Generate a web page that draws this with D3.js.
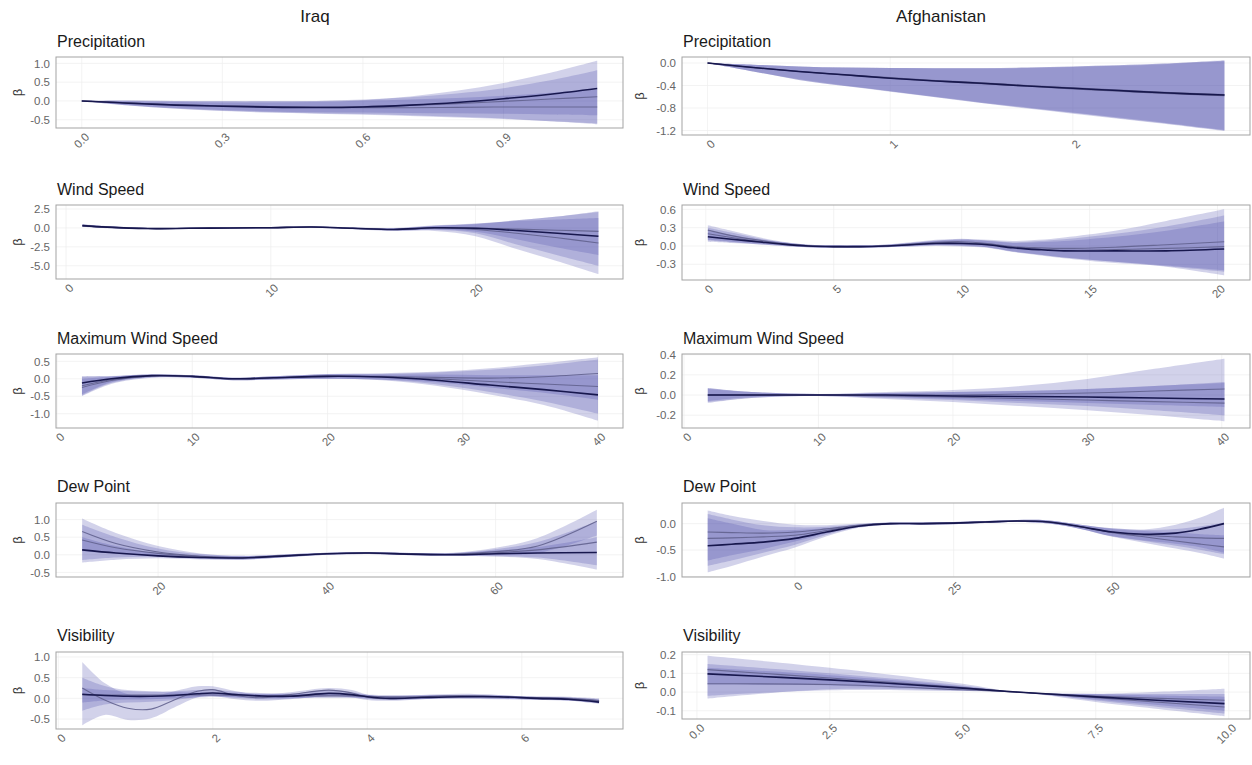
<!DOCTYPE html>
<html><head><meta charset="utf-8">
<script src="https://cdn.jsdelivr.net/npm/d3@7"></script>
<style>
body{margin:0;background:#fff;}
svg{display:block;font-family:"Liberation Sans",Arial,Helvetica,sans-serif;}
</style>
</head><body>
<svg id="chart" width="1252" height="765"></svg>
<script>
// ---------------- DATA ----------------
const countries = ["Iraq", "Afghanistan"];
const variables = ["Precipitation", "Wind Speed", "Maximum Wind Speed", "Dew Point", "Visibility"];

// Iraq – Precipitation
const iqPrecipX = [0, 0.1, 0.2, 0.3, 0.4, 0.5, 0.6, 0.7, 0.8, 0.9, 1.0, 1.1];
const iqPrecipFit = [
  [0, -0.06, -0.11, -0.14, -0.165, -0.175, -0.16, -0.11, -0.04, 0.06, 0.18, 0.33],
  [0, -0.05, -0.1, -0.13, -0.15, -0.16, -0.15, -0.12, -0.07, -0.01, 0.05, 0.11],
  [0, -0.05, -0.1, -0.13, -0.15, -0.17, -0.18, -0.18, -0.17, -0.16, -0.16, -0.16]];
const iqPrecipLo = [
  [0, -0.11, -0.19, -0.24, -0.28, -0.3, -0.31, -0.32, -0.33, -0.34, -0.36, -0.38],
  [0, -0.12, -0.2, -0.26, -0.3, -0.33, -0.35, -0.38, -0.42, -0.47, -0.54, -0.62],
  [0, -0.12, -0.21, -0.27, -0.31, -0.34, -0.37, -0.4, -0.44, -0.48, -0.54, -0.6]];
const iqPrecipHi = [
  [0, -0.01, -0.03, -0.04, -0.04, -0.03, 0.02, 0.12, 0.27, 0.48, 0.75, 1.07],
  [0, 0.01, 0.0, -0.01, -0.01, 0.0, 0.04, 0.1, 0.2, 0.34, 0.55, 0.82],
  [0, 0.01, 0.0, 0.0, 0.0, 0.0, 0.01, 0.04, 0.08, 0.14, 0.22, 0.3]];
const iqPrecipXTicks = [0, 0.3, 0.6, 0.9];
const iqPrecipXLabels = ["0.0", "0.3", "0.6", "0.9"];
const iqPrecipYTicks = [-0.5, 0, 0.5, 1.0];
const iqPrecipXLim = [-0.055, 1.155];
const iqPrecipYLim = [-0.72, 1.17];

// Afghanistan – Precipitation
const afPrecipX = [0, 0.25, 0.5, 0.75, 1.0, 1.25, 1.5, 1.75, 2.0, 2.25, 2.5, 2.83];
const afPrecipFit = [
  [0, -0.08, -0.15, -0.21, -0.27, -0.32, -0.36, -0.41, -0.45, -0.49, -0.53, -0.57],
  [0, -0.08, -0.15, -0.21, -0.26, -0.31, -0.35, -0.4, -0.44, -0.48, -0.52, -0.56],
  [0, -0.08, -0.15, -0.21, -0.27, -0.32, -0.37, -0.41, -0.46, -0.5, -0.54, -0.58]];
const afPrecipLo = [
  [0, -0.15, -0.3, -0.41, -0.5, -0.61, -0.71, -0.8, -0.89, -0.98, -1.07, -1.2],
  [0, -0.15, -0.29, -0.4, -0.5, -0.6, -0.7, -0.79, -0.88, -0.97, -1.06, -1.19],
  [0, -0.15, -0.3, -0.41, -0.51, -0.61, -0.71, -0.81, -0.9, -0.99, -1.08, -1.21]];
const afPrecipHi = [
  [0, -0.03, -0.06, -0.08, -0.09, -0.09, -0.09, -0.08, -0.06, -0.04, -0.01, 0.04],
  [0, -0.03, -0.06, -0.08, -0.09, -0.09, -0.09, -0.08, -0.06, -0.04, -0.01, 0.05],
  [0, -0.03, -0.06, -0.08, -0.09, -0.1, -0.1, -0.09, -0.07, -0.05, -0.02, 0.03]];
const afPrecipXTicks = [0, 1, 2];
const afPrecipXLabels = ["0", "1", "2"];
const afPrecipYTicks = [-1.2, -0.8, -0.4, 0.0];
const afPrecipXLim = [-0.14, 2.97];
const afPrecipYLim = [-1.28, 0.107];

// Iraq – Wind Speed
const iqWindX = [0.8, 2, 4, 6, 8, 10, 12, 14, 16, 18, 20, 22, 24, 26];
const iqWindFit = [
  [0.3, 0.1, -0.08, -0.05, 0.0, 0.03, 0.12, -0.05, -0.2, 0.02, -0.05, -0.35, -0.7, -1.1],
  [0.3, 0.1, -0.08, -0.05, 0.0, 0.03, 0.12, -0.05, -0.2, 0.0, -0.2, -0.7, -1.3, -2.0],
  [0.3, 0.1, -0.08, -0.05, 0.0, 0.03, 0.12, -0.05, -0.2, 0.02, 0.0, -0.15, -0.3, -0.45]];
const iqWindLo = [
  [0.15, -0.02, -0.16, -0.12, -0.08, -0.05, 0.03, -0.15, -0.35, -0.25, -0.7, -2.2, -3.6, -5.0],
  [0.12, -0.04, -0.18, -0.14, -0.1, -0.07, 0.01, -0.18, -0.4, -0.4, -1.1, -2.8, -4.4, -6.1],
  [0.16, -0.01, -0.15, -0.11, -0.07, -0.04, 0.04, -0.13, -0.32, -0.2, -0.5, -1.5, -2.6, -3.6]];
const iqWindHi = [
  [0.45, 0.22, 0.0, 0.02, 0.08, 0.11, 0.21, 0.05, -0.05, 0.3, 0.5, 1.0, 1.5, 2.2],
  [0.48, 0.24, 0.02, 0.04, 0.1, 0.13, 0.23, 0.08, 0.0, 0.35, 0.6, 0.9, 1.1, 1.3],
  [0.44, 0.21, -0.01, 0.01, 0.07, 0.1, 0.2, 0.03, -0.08, 0.25, 0.55, 1.0, 1.5, 2.1]];
const iqWindXTicks = [0, 10, 20];
const iqWindXLabels = ["0", "10", "20"];
const iqWindYTicks = [-5.0, -2.5, 0.0, 2.5];
const iqWindXLim = [-0.49, 27.2];
const iqWindYLim = [-6.75, 3.03];

// Afghanistan – Wind Speed
const afWindX = [0.08, 1, 2, 3, 4, 5, 6, 7, 8, 9, 10, 11, 12, 13, 14, 16, 18, 20.26];
const afWindFit = [
  [0.15, 0.11, 0.07, 0.03, 0.0, -0.01, -0.01, 0.0, 0.02, 0.04, 0.04, 0.02, -0.03, -0.06, -0.08, -0.08, -0.08, -0.05],
  [0.26, 0.17, 0.1, 0.04, 0.0, -0.01, -0.01, 0.0, 0.03, 0.06, 0.07, 0.04, -0.01, -0.03, -0.04, -0.02, 0.02, 0.07],
  [0.2, 0.14, 0.08, 0.03, 0.0, -0.01, -0.01, 0.0, 0.02, 0.05, 0.05, 0.03, -0.02, -0.05, -0.07, -0.06, -0.04, -0.01]];
const afWindLo = [
  [0.07, 0.05, 0.03, 0.0, -0.02, -0.03, -0.03, -0.02, -0.01, 0.0, -0.01, -0.03, -0.1, -0.15, -0.2, -0.28, -0.33, -0.42],
  [0.1, 0.07, 0.04, 0.01, -0.02, -0.03, -0.03, -0.02, 0.0, 0.02, 0.01, -0.02, -0.09, -0.14, -0.19, -0.26, -0.34, -0.48],
  [0.09, 0.06, 0.03, 0.0, -0.02, -0.03, -0.03, -0.02, -0.01, 0.01, 0.0, -0.02, -0.09, -0.14, -0.19, -0.26, -0.32, -0.4]];
const afWindHi = [
  [0.24, 0.18, 0.11, 0.06, 0.02, 0.01, 0.01, 0.02, 0.05, 0.08, 0.1, 0.08, 0.05, 0.06, 0.08, 0.15, 0.25, 0.4],
  [0.34, 0.25, 0.15, 0.07, 0.02, 0.01, 0.01, 0.02, 0.06, 0.1, 0.12, 0.1, 0.08, 0.1, 0.14, 0.25, 0.41, 0.6],
  [0.3, 0.22, 0.13, 0.06, 0.02, 0.01, 0.01, 0.02, 0.05, 0.09, 0.11, 0.09, 0.06, 0.08, 0.11, 0.2, 0.32, 0.5]];
const afWindXTicks = [0, 5, 10, 15, 20];
const afWindXLabels = ["0", "5", "10", "15", "20"];
const afWindYTicks = [-0.3, 0.0, 0.3, 0.6];
const afWindXLim = [-0.93, 21.27];
const afWindYLim = [-0.557, 0.671];

// Iraq – Maximum Wind Speed
const iqMaxX = [1.84, 4, 7, 10, 13, 16, 20, 24, 28, 32, 36, 40];
const iqMaxFit = [
  [-0.12, 0.0, 0.09, 0.07, 0.0, 0.03, 0.07, 0.05, -0.04, -0.18, -0.31, -0.46],
  [-0.25, -0.05, 0.08, 0.07, 0.0, 0.03, 0.07, 0.06, 0.0, -0.08, -0.15, -0.22],
  [-0.2, -0.03, 0.08, 0.07, 0.0, 0.03, 0.08, 0.07, 0.04, 0.02, 0.06, 0.15]];
const iqMaxLo = [
  [-0.45, -0.1, 0.05, 0.03, -0.04, -0.02, 0.0, -0.04, -0.2, -0.45, -0.75, -1.2],
  [-0.5, -0.15, 0.03, 0.03, -0.04, -0.02, 0.0, -0.03, -0.16, -0.38, -0.65, -1.0],
  [-0.48, -0.12, 0.04, 0.03, -0.04, -0.02, 0.0, -0.02, -0.1, -0.25, -0.4, -0.6]];
const iqMaxHi = [
  [0.08, 0.08, 0.13, 0.1, 0.03, 0.07, 0.13, 0.12, 0.12, 0.1, 0.1, 0.1],
  [0.0, 0.06, 0.12, 0.1, 0.03, 0.07, 0.13, 0.14, 0.18, 0.26, 0.38, 0.55],
  [0.05, 0.07, 0.12, 0.1, 0.03, 0.07, 0.14, 0.16, 0.2, 0.3, 0.45, 0.62]];
const iqMaxXTicks = [0, 10, 20, 30, 40];
const iqMaxXLabels = ["0", "10", "20", "30", "40"];
const iqMaxYTicks = [-1.0, -0.5, 0.0, 0.5];
const iqMaxXLim = [-0.08, 41.85];
const iqMaxYLim = [-1.41, 0.71];

// Afghanistan – Maximum Wind Speed
const afMaxX = [1.77, 5, 10, 15, 20, 25, 30, 35, 40.2];
const afMaxFit = [
  [0.0, 0.0, 0.0, 0.0, -0.01, -0.015, -0.02, -0.03, -0.04],
  [0.0, 0.0, 0.0, -0.01, -0.02, -0.035, -0.05, -0.065, -0.08],
  [0.0, 0.0, 0.0, 0.0, 0.0, 0.01, 0.02, 0.04, 0.06]];
const afMaxLo = [
  [-0.07, -0.03, -0.01, -0.03, -0.05, -0.08, -0.11, -0.15, -0.2],
  [-0.08, -0.03, -0.01, -0.04, -0.07, -0.11, -0.15, -0.2, -0.26],
  [-0.06, -0.02, -0.01, -0.02, -0.04, -0.06, -0.08, -0.1, -0.12]];
const afMaxHi = [
  [0.06, 0.03, 0.01, 0.02, 0.03, 0.04, 0.06, 0.09, 0.12],
  [0.07, 0.03, 0.01, 0.02, 0.03, 0.04, 0.06, 0.09, 0.13],
  [0.07, 0.03, 0.01, 0.03, 0.05, 0.09, 0.16, 0.26, 0.36]];
const afMaxXTicks = [0, 10, 20, 30, 40];
const afMaxXLabels = ["0", "10", "20", "30", "40"];
const afMaxYTicks = [-0.2, 0.0, 0.2, 0.4];
const afMaxXLim = [-0.15, 42.1];
const afMaxYLim = [-0.327, 0.407];

// Iraq – Dew Point
const iqDewX = [11, 15, 20, 25, 30, 35, 40, 45, 50, 55, 60, 65, 72];
const iqDewFit = [
  [0.14, 0.05, -0.03, -0.075, -0.09, -0.03, 0.03, 0.05, 0.02, 0.0, 0.03, 0.05, 0.065],
  [0.42, 0.2, 0.04, -0.05, -0.08, -0.03, 0.03, 0.05, 0.02, 0.01, 0.06, 0.14, 0.36],
  [0.66, 0.32, 0.08, -0.04, -0.08, -0.03, 0.03, 0.05, 0.02, 0.02, 0.09, 0.25, 0.95]];
const iqDewLo = [
  [-0.22, -0.14, -0.1, -0.13, -0.14, -0.07, 0.0, 0.02, -0.01, -0.03, -0.05, -0.12, -0.42],
  [-0.15, -0.08, -0.06, -0.11, -0.13, -0.07, 0.0, 0.02, -0.01, -0.03, -0.04, -0.08, -0.3],
  [0.1, 0.03, -0.04, -0.1, -0.13, -0.07, 0.0, 0.02, -0.01, -0.02, 0.0, 0.05, 0.55]];
const iqDewHi = [
  [0.5, 0.25, 0.05, -0.02, -0.04, 0.01, 0.06, 0.08, 0.05, 0.04, 0.12, 0.22, 0.5],
  [0.85, 0.5, 0.18, 0.02, -0.03, 0.01, 0.06, 0.08, 0.05, 0.05, 0.16, 0.36, 0.95],
  [1.03, 0.62, 0.25, 0.04, -0.03, 0.01, 0.06, 0.08, 0.05, 0.06, 0.2, 0.48, 1.28]];
const iqDewXTicks = [20, 40, 60];
const iqDewXLabels = ["20", "40", "60"];
const iqDewYTicks = [-0.5, 0.0, 0.5, 1.0];
const iqDewXLim = [7.9, 75.1];
const iqDewYLim = [-0.63, 1.47];

// Afghanistan – Dew Point
const afDewX = [-13.75, -10, -5, 0, 5, 10, 15, 20, 25, 30, 35, 40, 45, 50, 55, 60, 64, 67.6];
const afDewFit = [
  [-0.42, -0.39, -0.35, -0.28, -0.16, -0.05, 0.0, 0.0, 0.01, 0.03, 0.05, 0.03, -0.06, -0.16, -0.2, -0.18, -0.1, 0.0],
  [-0.16, -0.17, -0.18, -0.16, -0.1, -0.03, 0.0, 0.0, 0.01, 0.03, 0.05, 0.03, -0.06, -0.17, -0.25, -0.33, -0.39, -0.44],
  [-0.28, -0.27, -0.25, -0.22, -0.13, -0.04, 0.0, 0.0, 0.01, 0.03, 0.05, 0.03, -0.06, -0.16, -0.22, -0.25, -0.27, -0.28]];
const afDewLo = [
  [-0.92, -0.8, -0.62, -0.45, -0.24, -0.08, -0.02, -0.02, -0.01, 0.01, 0.03, 0.0, -0.1, -0.24, -0.32, -0.38, -0.45, -0.55],
  [-0.7, -0.6, -0.48, -0.34, -0.18, -0.06, -0.02, -0.02, -0.01, 0.01, 0.03, 0.0, -0.1, -0.25, -0.36, -0.47, -0.56, -0.66],
  [-0.8, -0.7, -0.55, -0.4, -0.21, -0.07, -0.02, -0.02, -0.01, 0.01, 0.03, 0.0, -0.1, -0.24, -0.33, -0.42, -0.5, -0.58]];
const afDewHi = [
  [0.1, 0.0, -0.12, -0.12, -0.09, -0.02, 0.02, 0.02, 0.03, 0.05, 0.07, 0.06, -0.02, -0.09, -0.11, -0.02, 0.12, 0.3],
  [0.25, 0.15, 0.05, -0.02, -0.03, 0.0, 0.02, 0.02, 0.03, 0.05, 0.07, 0.06, -0.02, -0.1, -0.14, -0.17, -0.2, -0.22],
  [0.18, 0.08, -0.03, -0.07, -0.06, -0.01, 0.02, 0.02, 0.03, 0.05, 0.07, 0.06, -0.02, -0.09, -0.12, -0.1, -0.05, 0.02]];
const afDewXTicks = [0, 25, 50];
const afDewXLabels = ["0", "25", "50"];
const afDewYTicks = [-1.0, -0.5, 0.0];
const afDewXLim = [-17.8, 71.7];
const afDewYLim = [-1.01, 0.39];

// Iraq – Visibility
const iqVisX = [0.31, 0.6, 0.9, 1.2, 1.5, 1.8, 2.0, 2.3, 2.6, 3.0, 3.5, 3.8, 4.0, 4.3, 4.7, 5.2, 5.7, 6.2, 6.6, 7.0];
const iqVisFit = [
  [0.1, 0.07, 0.05, 0.05, 0.07, 0.11, 0.13, 0.09, 0.06, 0.05, 0.12, 0.09, 0.04, 0.0, 0.02, 0.04, 0.04, 0.0, -0.02, -0.09],
  [0.25, -0.04, -0.24, -0.26, -0.04, 0.17, 0.21, 0.07, 0.015, 0.09, 0.2, 0.13, 0.03, -0.01, 0.04, 0.07, 0.04, 0.0, -0.02, -0.06],
  [0.08, 0.08, 0.08, 0.08, 0.08, 0.08, 0.08, 0.07, 0.06, 0.06, 0.06, 0.06, 0.05, 0.04, 0.04, 0.04, 0.03, 0.02, 0.0, -0.05]];
const iqVisLo = [
  [-0.3, -0.15, -0.1, -0.08, -0.04, 0.03, 0.06, 0.02, -0.02, -0.01, 0.05, 0.03, -0.01, -0.04, -0.02, 0.0, 0.0, -0.03, -0.05, -0.13],
  [-0.65, -0.4, -0.52, -0.48, -0.22, 0.02, 0.06, -0.02, -0.06, -0.02, 0.05, 0.02, -0.04, -0.06, -0.02, 0.02, -0.01, -0.04, -0.06, -0.12],
  [-0.1, -0.05, -0.03, -0.02, 0.0, 0.02, 0.03, 0.02, 0.01, 0.01, 0.01, 0.01, 0.0, -0.01, -0.01, -0.01, -0.02, -0.03, -0.05, -0.1]];
const iqVisHi = [
  [0.5, 0.3, 0.2, 0.17, 0.17, 0.2, 0.21, 0.16, 0.13, 0.11, 0.2, 0.15, 0.09, 0.04, 0.06, 0.08, 0.08, 0.03, 0.01, -0.04],
  [0.88, 0.37, 0.1, 0.05, 0.17, 0.29, 0.29, 0.17, 0.1, 0.15, 0.25, 0.2, 0.09, 0.05, 0.08, 0.11, 0.08, 0.03, 0.02, -0.02],
  [0.25, 0.2, 0.18, 0.16, 0.15, 0.14, 0.13, 0.12, 0.11, 0.11, 0.1, 0.1, 0.09, 0.08, 0.08, 0.07, 0.06, 0.05, 0.04, 0.0]];
const iqVisXTicks = [0, 2, 4, 6];
const iqVisXLabels = ["0", "2", "4", "6"];
const iqVisYTicks = [-0.5, 0.0, 0.5, 1.0];
const iqVisXLim = [-0.03, 7.31];
const iqVisYLim = [-0.74, 1.12];

// Afghanistan – Visibility
const afVisX = [0.2, 2.5, 5, 6, 7.5, 9.92];
const afVisFit = [
  [0.097, 0.065, 0.021, 0.0, -0.026, -0.062],
  [0.12, 0.075, 0.024, 0.0, -0.022, -0.044],
  [0.044, 0.04, 0.012, 0.0, -0.03, -0.08]];
const afVisLo = [
  [0.04, 0.035, 0.01, 0.0, -0.04, -0.1],
  [-0.035, 0.015, 0.008, 0.0, -0.045, -0.115],
  [-0.02, 0.01, 0.005, 0.0, -0.053, -0.129]];
const afVisHi = [
  [0.15, 0.1, 0.035, 0.0, -0.012, -0.025],
  [0.194, 0.13, 0.044, 0.0, -0.009, 0.018],
  [0.13, 0.09, 0.03, 0.0, -0.01, -0.01]];
const afVisXTicks = [0, 2.5, 5, 7.5, 10];
const afVisXLabels = ["0.0", "2.5", "5.0", "7.5", "10.0"];
const afVisYTicks = [-0.1, 0.0, 0.1, 0.2];
const afVisXLim = [-0.28, 10.4];
const afVisYLim = [-0.144, 0.214];

// ---------------- LAYOUT ----------------
const W = 1252, H = 765;
const colX = [[56, 623], [682, 1250]];
const colCenter = [315, 941];
const betaX = [18, 640];
const rowTitleY = [47, 195, 344, 492, 641];
const boxY = [
  [[57, 128], [205, 279], [354, 428], [503, 577], [652, 729]],
  [[57, 135], [205, 280], [354, 428], [503, 577], [652, 719]]
];

const panels = [
  {col:0,row:0,x:iqPrecipX,fit:iqPrecipFit,lo:iqPrecipLo,hi:iqPrecipHi,xt:iqPrecipXTicks,xl:iqPrecipXLabels,yt:iqPrecipYTicks,xd:iqPrecipXLim,yd:iqPrecipYLim},
  {col:1,row:0,x:afPrecipX,fit:afPrecipFit,lo:afPrecipLo,hi:afPrecipHi,xt:afPrecipXTicks,xl:afPrecipXLabels,yt:afPrecipYTicks,xd:afPrecipXLim,yd:afPrecipYLim},
  {col:0,row:1,x:iqWindX,fit:iqWindFit,lo:iqWindLo,hi:iqWindHi,xt:iqWindXTicks,xl:iqWindXLabels,yt:iqWindYTicks,xd:iqWindXLim,yd:iqWindYLim},
  {col:1,row:1,x:afWindX,fit:afWindFit,lo:afWindLo,hi:afWindHi,xt:afWindXTicks,xl:afWindXLabels,yt:afWindYTicks,xd:afWindXLim,yd:afWindYLim},
  {col:0,row:2,x:iqMaxX,fit:iqMaxFit,lo:iqMaxLo,hi:iqMaxHi,xt:iqMaxXTicks,xl:iqMaxXLabels,yt:iqMaxYTicks,xd:iqMaxXLim,yd:iqMaxYLim},
  {col:1,row:2,x:afMaxX,fit:afMaxFit,lo:afMaxLo,hi:afMaxHi,xt:afMaxXTicks,xl:afMaxXLabels,yt:afMaxYTicks,xd:afMaxXLim,yd:afMaxYLim},
  {col:0,row:3,x:iqDewX,fit:iqDewFit,lo:iqDewLo,hi:iqDewHi,xt:iqDewXTicks,xl:iqDewXLabels,yt:iqDewYTicks,xd:iqDewXLim,yd:iqDewYLim},
  {col:1,row:3,x:afDewX,fit:afDewFit,lo:afDewLo,hi:afDewHi,xt:afDewXTicks,xl:afDewXLabels,yt:afDewYTicks,xd:afDewXLim,yd:afDewYLim},
  {col:0,row:4,x:iqVisX,fit:iqVisFit,lo:iqVisLo,hi:iqVisHi,xt:iqVisXTicks,xl:iqVisXLabels,yt:iqVisYTicks,xd:iqVisXLim,yd:iqVisYLim},
  {col:1,row:4,x:afVisX,fit:afVisFit,lo:afVisLo,hi:afVisHi,xt:afVisXTicks,xl:afVisXLabels,yt:afVisYTicks,xd:afVisXLim,yd:afVisYLim}
];

const svg = d3.select("#chart");
svg.append("rect").attr("width", W).attr("height", H).attr("fill", "#fff");

// column headers
countries.forEach((c, i) => {
  svg.append("text").attr("x", colCenter[i]).attr("y", 22)
    .attr("text-anchor", "middle").attr("font-size", 17).attr("fill", "#1a1a1a").text(c);
});

const bandFill = "#4b4bab";
const curve = d3.curveCatmullRom.alpha(0.5);

panels.forEach((p, pi) => {
  const [x0, x1] = colX[p.col];
  const [y0, y1] = boxY[p.col][p.row];
  const xs = d3.scaleLinear().domain(p.xd).range([x0, x1]);
  const ys = d3.scaleLinear().domain(p.yd).range([y1, y0]);
  const g = svg.append("g");

  // title
  g.append("text").attr("x", x0 + 1).attr("y", rowTitleY[p.row])
    .attr("font-size", 16).attr("fill", "#1a1a1a").text(variables[p.row]);

  // grid
  g.append("g").selectAll("line").data(p.yt).join("line")
    .attr("x1", x0).attr("x2", x1).attr("y1", d => ys(d)).attr("y2", d => ys(d))
    .attr("stroke", "#eeeeee").attr("stroke-width", 0.7);
  g.append("g").selectAll("line").data(p.xt.filter(d => d >= p.xd[0] && d <= p.xd[1])).join("line")
    .attr("y1", y0).attr("y2", y1).attr("x1", d => xs(d)).attr("x2", d => xs(d))
    .attr("stroke", "#eeeeee").attr("stroke-width", 0.7);

  // clip
  const cid = "clip" + pi;
  svg.append("clipPath").attr("id", cid).append("rect")
    .attr("x", x0).attr("y", y0).attr("width", x1 - x0).attr("height", y1 - y0);
  const plot = g.append("g").attr("clip-path", `url(#${cid})`);

  const area = d3.area().curve(curve).x(d => xs(d.x)).y0(d => ys(d.lo)).y1(d => ys(d.hi));
  const line = d3.line().curve(curve).x(d => xs(d.x)).y(d => ys(d.y));

  const series = p.fit.map((f, i) => p.x.map((xv, j) => ({x: xv, y: f[j], lo: p.lo[i][j], hi: p.hi[i][j]})));

  // bands (back to front)
  for (let i = series.length - 1; i >= 0; i--) {
    plot.append("path").datum(series[i]).attr("d", area)
      .attr("fill", bandFill).attr("fill-opacity", 0.25).attr("stroke", "none");
  }
  // secondary lines
  for (let i = series.length - 1; i >= 1; i--) {
    plot.append("path").datum(series[i]).attr("d", line)
      .attr("fill", "none").attr("stroke", "#62628e").attr("stroke-width", 1.1).attr("stroke-opacity", 0.9);
  }
  // main line
  plot.append("path").datum(series[0]).attr("d", line)
    .attr("fill", "none").attr("stroke", "#17174d").attr("stroke-width", 1.6);

  // border
  g.append("rect").attr("x", x0).attr("y", y0).attr("width", x1 - x0).attr("height", y1 - y0)
    .attr("fill", "none").attr("stroke", "#a3a3a3").attr("stroke-width", 1);

  // y axis
  const ya = g.append("g").attr("transform", `translate(${x0},0)`)
    .call(d3.axisLeft(ys).tickValues(p.yt).tickFormat(d => d.toFixed(1)).tickSize(0).tickPadding(6));
  ya.select(".domain").remove();
  ya.selectAll("text").attr("font-size", 11.5).attr("fill", "#666").attr("font-family", null);

  // x axis
  const xa = g.append("g").attr("transform", `translate(0,${y1})`)
    .call(d3.axisBottom(xs).tickValues(p.xt).tickFormat((d, i) => p.xl[i]).tickSize(0).tickPadding(0));
  xa.select(".domain").remove();
  xa.selectAll("text")
    .attr("font-size", 11.5).attr("fill", "#666").attr("font-family", null)
    .attr("x", 0).attr("y", 0).attr("dy", "0.71em")
    .attr("text-anchor", "end")
    .attr("transform", "translate(2,4) rotate(-45)");

  // beta label
  g.append("text")
    .attr("transform", `translate(${betaX[p.col] + 4},${(y0 + y1) / 2}) rotate(-90)`)
    .attr("text-anchor", "middle").attr("font-size", 13).attr("fill", "#333").text("β");
});
</script>
</body></html>
